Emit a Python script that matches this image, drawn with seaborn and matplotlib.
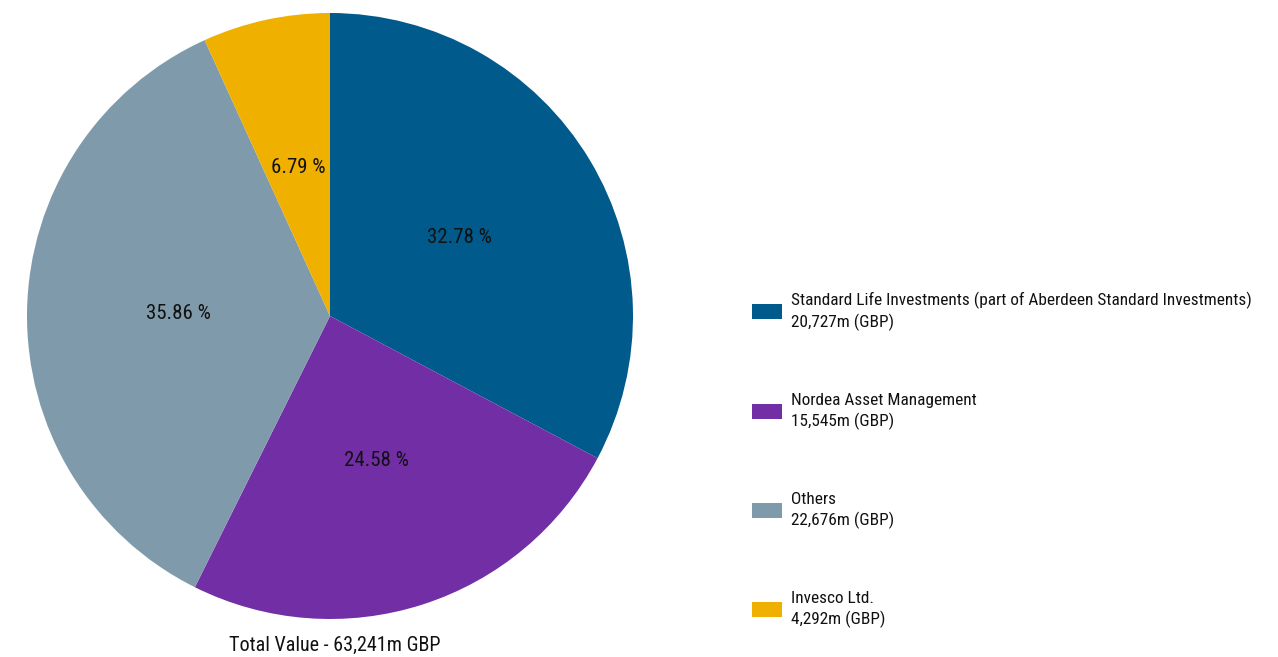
import matplotlib.pyplot as plt
import seaborn as sns

managers = ["Standard Life Investments (part of Aberdeen Standard Investments)",
            "Nordea Asset Management", "Others", "Invesco Ltd."]
values = [20727, 15545, 22676, 4292]
pct_labels = ["32.78 %", "24.58 %", "35.86 %", "6.79 %"]
value_labels = ["20,727m (GBP)", "15,545m (GBP)", "22,676m (GBP)", "4,292m (GBP)"]
total_label = "Total Value - 63,241m GBP"
colors = ["#005A8C", "#722EA5", "#7F9BAB", "#F0B000"]

sns.set_theme(style="white")
plt.rcParams["font.family"] = ["Roboto Condensed", "Liberation Sans", "DejaVu Sans"]

fig = plt.figure(figsize=(12.78, 6.57), dpi=100)
ax = fig.add_axes([27 / 1278, 38 / 657, 606 / 1278, 606 / 657])

wedges, texts = ax.pie(values, colors=colors, startangle=90, counterclock=False,
                       labels=pct_labels, labeldistance=0.5,
                       wedgeprops=dict(linewidth=0),
                       textprops=dict(fontsize=15, color="#111111", ha="center", va="center"))
ax.set_xlim(-1, 1)
ax.set_ylim(-1, 1)
ax.set_aspect("equal")
ax.axis("off")

fig.text(335 / 1278, 1 - 645 / 657, total_label, ha="center", va="center",
         fontsize=14.5, color="#111111")

leg_labels = [f"{m}\n{v}" for m, v in zip(managers, value_labels)]
leg = fig.legend(wedges, leg_labels, loc="upper left", bbox_to_anchor=(745 / 1278, 1 - 285 / 657),
                 frameon=False, fontsize=12.4, labelspacing=3.6, handlelength=1.75,
                 handleheight=0.95, handletextpad=0.5, borderaxespad=0, labelcolor="#111111")
for t in leg.get_texts():
    t.set_linespacing(1.35)

fig.savefig("out.png", dpi=100, facecolor="white")
